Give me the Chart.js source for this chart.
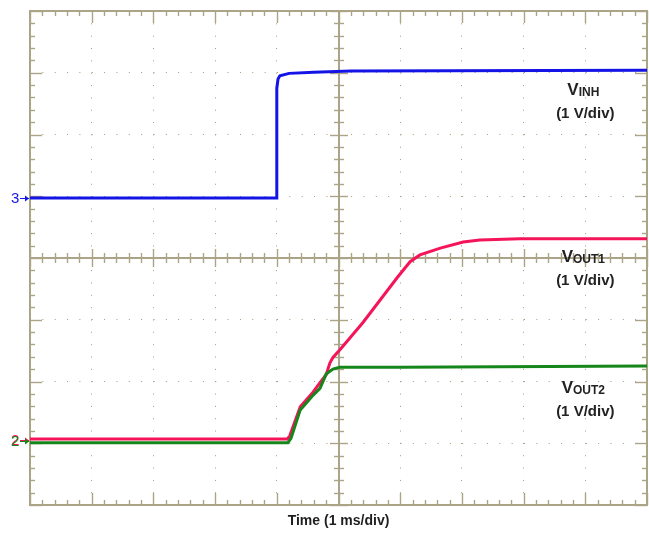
<!DOCTYPE html>
<html>
<head>
<meta charset="utf-8">
<title>VINH / VOUT start-up</title>
<script src="https://cdn.jsdelivr.net/npm/chart.js@4"></script>
<style>
  html, body { margin: 0; padding: 0; background: #fff; }
  #wrap { width: 649px; height: 533px; position: relative; }
</style>
</head>
<body>
<div id="wrap"><canvas id="scope"></canvas></div>
<script>
var vinhTime  = [0, 3.99, 4.0, 4.02, 4.05, 4.2, 4.6, 5.2, 10];
var vinhVolts = [0.97, 0.97, 2.75, 2.9, 2.95, 2.99, 3.01, 3.03, 3.04];

var vout1Time  = [0, 4.17, 4.21, 4.38, 4.59, 4.70, 4.80, 4.86, 4.91, 5.02, 5.40, 5.95, 6.16, 6.32, 6.65, 7.02, 7.29, 7.94, 10];
var vout1Volts = [-2.93, -2.93, -2.88, -2.41, -2.17, -2.02, -1.89, -1.70, -1.61, -1.49, -1.04, -0.32, -0.06, 0.05, 0.16, 0.26, 0.29, 0.31, 0.31];

var vout2Time  = [0, 4.18, 4.23, 4.38, 4.59, 4.70, 4.80, 4.91, 5.02, 6.0, 10];
var vout2Volts = [-2.99, -2.99, -2.92, -2.46, -2.22, -2.11, -1.88, -1.80, -1.77, -1.77, -1.75];

var channelNames = ['INH', 'OUT1', 'OUT2'];
var channelScale = '(1 V/div)';
var channelMarks = ['3', '2', '2'];
var timeTitle = 'Time (1 ms/div)';

// screen look
var frameColor = '#aca487';
var dotColor = '#a39b7d';
var blue = '#1414e6';
var red = '#f5145a';
var green = '#15861a';
var labelAt = { t: 9.0, v: [2.64, -0.07, -2.19] };   // label anchors in ms / V

function toPoints(ts, vs) {
  var out = [];
  for (var i = 0; i < ts.length; i++) out.push({ x: ts[i], y: vs[i] });
  return out;
}

function seg(ctx, x1, y1, x2, y2) {
  ctx.beginPath();
  ctx.moveTo(x1, y1);
  ctx.lineTo(x2, y2);
  ctx.stroke();
}

/* frame, centre cross and the small ticks of the scope screen */
var scopeFrame = {
  id: 'scopeFrame',
  beforeDatasetsDraw: function (chart) {
    var ctx = chart.ctx, a = chart.chartArea;
    var xs = chart.scales.x, ys = chart.scales.y;
    var cx = Math.round(xs.getPixelForValue(5));
    var cy = Math.round(ys.getPixelForValue(0));
    ctx.save();
    ctx.strokeStyle = frameColor;
    ctx.lineWidth = 2;
    seg(ctx, cx, a.top, cx, a.bottom);
    seg(ctx, a.left, cy, a.right, cy);

    ctx.lineWidth = 1.4;
    var t, p, major, len, half;
    for (t = 0; t <= 50; t++) {
      p = Math.round(xs.getPixelForValue(t * 0.2)) + 0.5;
      major = t % 5 === 0;
      len = major ? 12 : 5;
      half = major ? 9 : 5;
      seg(ctx, p, a.top, p, a.top + len);
      seg(ctx, p, a.bottom, p, a.bottom - len);
      seg(ctx, p, cy - half, p, cy + half);
    }
    for (t = 0; t <= 40; t++) {
      p = Math.round(ys.getPixelForValue(-4 + t * 0.2)) + 0.5;
      major = t % 5 === 0;
      len = major ? 12 : 5;
      half = major ? 9 : 5;
      seg(ctx, a.left, p, a.left + len, p);
      seg(ctx, a.right, p, a.right - len, p);
      seg(ctx, cx - half, p, cx + half, p);
    }

    ctx.lineWidth = 2;
    ctx.strokeRect(a.left, a.top, a.right - a.left, a.bottom - a.top);
    ctx.restore();
  },
  afterDatasetsDraw: function (chart) {
    var ctx = chart.ctx, a = chart.chartArea;
    var xs = chart.scales.x, ys = chart.scales.y;
    ctx.save();

    // channel labels
    ctx.fillStyle = '#222';
    ctx.textBaseline = 'alphabetic';
    var cxl = xs.getPixelForValue(labelAt.t);
    for (var i = 0; i < channelNames.length; i++) {
      var base = ys.getPixelForValue(labelAt.v[i]);
      ctx.font = 'bold 17px "Liberation Sans", Arial, sans-serif';
      var wV = ctx.measureText('V').width;
      ctx.font = 'bold 12px "Liberation Sans", Arial, sans-serif';
      var wS = ctx.measureText(channelNames[i]).width;
      var x0 = cxl - 2 - (wV + wS) / 2;
      ctx.textAlign = 'left';
      ctx.font = 'bold 17px "Liberation Sans", Arial, sans-serif';
      ctx.fillText('V', x0, base);
      ctx.font = 'bold 12px "Liberation Sans", Arial, sans-serif';
      ctx.fillText(channelNames[i], x0 + wV, base + 1);
      ctx.textAlign = 'center';
      ctx.font = 'bold 15px "Liberation Sans", Arial, sans-serif';
      ctx.fillText(channelScale, cxl, base + 23);
    }

    // ground markers on the left edge (channel 2 carries both outputs)
    var sets = chart.data.datasets;
    var order = [2, 1, 0];
    var y2 = Math.round((ys.getPixelForValue(sets[1].data[0].y) + ys.getPixelForValue(sets[2].data[0].y)) / 2);
    ctx.font = '15px "Liberation Sans", Arial, sans-serif';
    ctx.textAlign = 'left';
    ctx.textBaseline = 'middle';
    for (var k = 0; k < order.length; k++) {
      var ds = sets[order[k]];
      var y = order[k] === 0 ? Math.round(ys.getPixelForValue(ds.data[0].y)) : y2 - (order[k] === 2 ? 1 : 0);
      ctx.fillStyle = ds.borderColor;
      ctx.strokeStyle = ds.borderColor;
      ctx.lineWidth = 1;
      ctx.fillText(ds.mark, 11, y + 1);
      seg(ctx, 20, y + 0.5, a.left - 1, y + 0.5);
      ctx.beginPath();
      ctx.moveTo(a.left - 1, y + 0.5);
      ctx.lineTo(a.left - 5, y - 2.5);
      ctx.lineTo(a.left - 5, y + 3.5);
      ctx.closePath();
      ctx.fill();
    }
    ctx.restore();
  }
};

new Chart(document.getElementById('scope'), {
  type: 'line',
  data: {
    datasets: [{
      label: 'V' + channelNames[0],
      mark: channelMarks[0],
      data: toPoints(vinhTime, vinhVolts),
      borderColor: blue,
      borderWidth: 3
    }, {
      label: 'V' + channelNames[2],
      mark: channelMarks[2],
      data: toPoints(vout2Time, vout2Volts),
      borderColor: green,
      borderWidth: 3
    }, {
      label: 'V' + channelNames[1],
      mark: channelMarks[1],
      data: toPoints(vout1Time, vout1Volts),
      borderColor: red,
      borderWidth: 3
    }]
  },
  options: {
    responsive: true,
    maintainAspectRatio: false,
    devicePixelRatio: 1,
    animation: false,
    layout: { padding: { left: 30, top: 11, right: 2, bottom: 0 } },
    elements: { point: { radius: 0 }, line: { tension: 0 } },
    plugins: { legend: { display: false }, tooltip: { enabled: false } },
    scales: {
      x: {
        type: 'linear',
        min: 0,
        max: 10,
        ticks: { display: false, stepSize: 1 },
        grid: { color: dotColor, lineWidth: 1, drawTicks: false },
        border: { display: false, dash: [1, 11.34] },
        title: {
          display: true,
          text: timeTitle,
          color: '#1e1e1e',
          font: { family: '"Liberation Sans", Arial, sans-serif', size: 14, weight: 'bold' },
          padding: { top: 0, bottom: 3 }
        },
        afterFit: function (s) { s.height = 28; }
      },
      y: {
        type: 'linear',
        min: -4,
        max: 4,
        ticks: { display: false, stepSize: 1 },
        grid: { color: dotColor, lineWidth: 1, drawTicks: false },
        border: { display: false, dash: [1, 11.35] },
        afterFit: function (s) { s.width = 0; }
      }
    }
  },
  plugins: [scopeFrame]
});
</script>
</body>
</html>
